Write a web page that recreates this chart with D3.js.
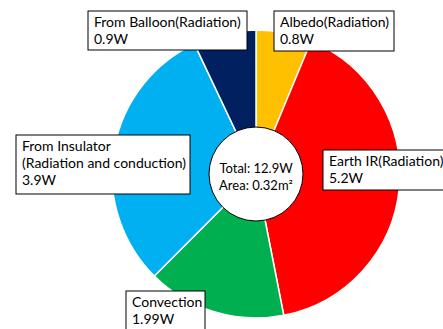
<!DOCTYPE html>
<html>
<head>
<meta charset="utf-8">
<script src="https://cdn.jsdelivr.net/npm/d3@7"></script>
<style>
  body { margin: 0; background: #fff; }
  svg { display: block; }
  text { font-family: Lato, "Open Sans", sans-serif; font-size: 13px; fill: #000; }
  .callout text { font-size: 14px; }
</style>
</head>
<body>
<div id="chart"></div>
<script>
// data
var categories = ["Albedo(Radiation)", "Earth IR(Radiation)", "Convection", "From Insulator\n(Radiation and conduction)", "From Balloon(Radiation)"]
var values = [0.8, 5.2, 1.99, 3.9, 0.9]
var valueLabels = ["0.8W", "5.2W", "1.99W", "3.9W", "0.9W"]
var centerLines = ["Total: 12.9W", "Area: 0.32m²"]

var colors = ["#FFC000", "#FF0000", "#00B050", "#00B0F0", "#002060"]

// where each callout box sits (x, y, w, h)
var boxes = [
  [274, 11, 120, 40],
  [323, 150, 125, 40],
  [126, 291, 79, 45],
  [16, 135, 174, 59],
  [88, 11, 159, 39]
]

var W = 443, H = 329
var cx = 256, cy = 174, r = 144, hole = 47

var svg = d3.select("#chart").append("svg")
  .attr("width", W)
  .attr("height", H)

var pie = d3.pie().sort(null).value(d => d)
var arc = d3.arc().innerRadius(0).outerRadius(r)

var g = svg.append("g").attr("transform", "translate(" + cx + "," + cy + ")")

g.selectAll("path")
  .data(pie(values))
  .enter()
  .append("path")
  .attr("d", arc)
  .attr("fill", (d, i) => colors[i])
  .attr("stroke", "#fff")
  .attr("stroke-width", 1.5)

g.append("circle")
  .attr("r", hole)
  .attr("fill", "#fff")
  .attr("stroke", "#000")
  .attr("stroke-width", 1)

g.selectAll(".center")
  .data(centerLines)
  .enter()
  .append("text")
  .attr("class", "center")
  .attr("text-anchor", "middle")
  .attr("y", (d, i) => i * 17 - 1)
  .text(d => d)

// callouts
var callouts = svg.selectAll(".callout")
  .data(categories)
  .enter()
  .append("g")
  .attr("class", "callout")
  .attr("transform", (d, i) => "translate(" + boxes[i][0] + "," + boxes[i][1] + ")")

callouts.append("rect")
  .attr("width", (d, i) => boxes[i][2])
  .attr("height", (d, i) => boxes[i][3])
  .attr("fill", "#fff")
  .attr("stroke", "#000")
  .attr("stroke-width", 1)

callouts.each(function(d, i) {
  var lines = d.split("\n").concat([valueLabels[i]])
  d3.select(this).selectAll("text")
    .data(lines)
    .enter()
    .append("text")
    .attr("x", 6)
    .attr("y", (t, j) => 16 + j * 17)
    .text(t => t)
})
</script>
</body>
</html>
